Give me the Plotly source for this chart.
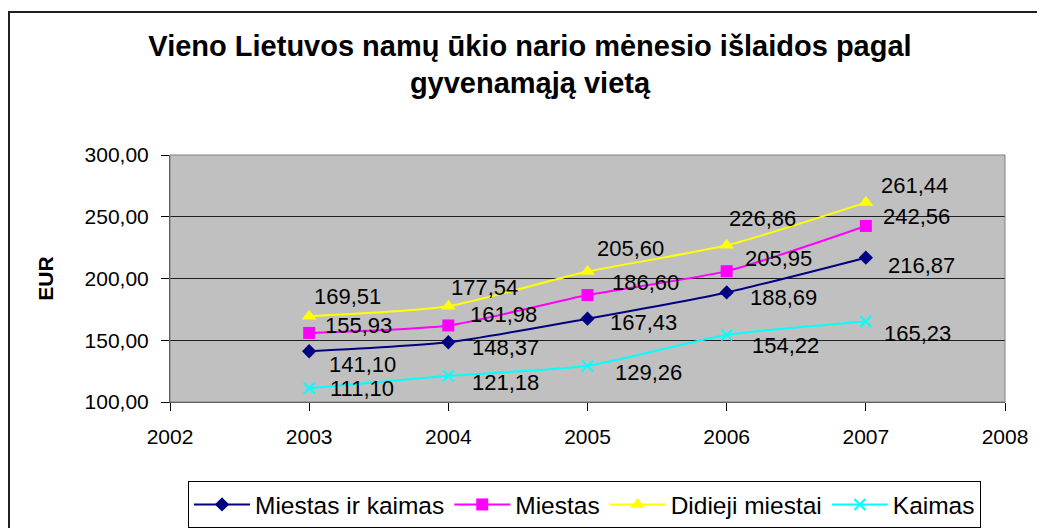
import plotly.graph_objects as go

years = [2003, 2004, 2005, 2006, 2007]
series_names = ["Miestas ir kaimas", "Miestas", "Didieji miestai", "Kaimas"]
miestas_ir_kaimas = [141.10, 148.37, 167.43, 188.69, 216.87]
miestas = [155.93, 161.98, 186.60, 205.95, 242.56]
didieji_miestai = [169.51, 177.54, 205.60, 226.86, 261.44]
kaimas = [111.10, 121.18, 129.26, 154.22, 165.23]
y_ticks = [100, 150, 200, 250, 300]
x_ticks = [2002, 2003, 2004, 2005, 2006, 2007, 2008]

title_text = "Vieno Lietuvos namų ūkio nario mėnesio išlaidos pagal<br>gyvenamąją vietą"

all_values = [miestas_ir_kaimas, miestas, didieji_miestai, kaimas]
colors = ["#000080", "#FF00FF", "#FFFF00", "#00FFFF"]
symbols = ["diamond", "square", "triangle-up", "x-thin"]
msizes = [11, 12, 13, 11]

# label offsets in pixels (dx to left edge, dy downward) per series per point
label_offsets = [
    [(18, 13), (22, 5), (20, 4), (21, 5), (20, 8)],
    [(14, -7), (20, -11), (22, -13), (16, -13), (15, -9)],
    [(3, -20), (1, -19), (7, -23), (0, -27), (13, -17)],
    [(19, 0), (22, 7), (25, 7), (23, 10), (16, 12)],
]

FONT = "Liberation Sans, Arial, sans-serif"

fig = go.Figure()
for name, vals, c, s, ms in zip(series_names, all_values, colors, symbols, msizes):
    fig.add_trace(go.Scatter(
        x=years, y=vals, name=name, mode="lines+markers",
        line=dict(color=c, width=2, shape="spline", smoothing=0.6),
        marker=dict(symbol=s, size=ms, color=c,
                    line=dict(color=c, width=2 if s == "x-thin" else 0)),
    ))

annotations = []
for vals, offs in zip(all_values, label_offsets):
    for x, v, (dx, dy) in zip(years, vals, offs):
        annotations.append(dict(
            x=x, y=v, xref="x", yref="y",
            text=f"{v:.2f}".replace(".", ","),
            showarrow=False, xanchor="left", yanchor="middle",
            xshift=dx, yshift=-dy,
            font=dict(family=FONT, size=22, color="black"),
        ))

# plot area geometry in figure px (page is offset by 8px body margin)
OFF = 8
L, T, R, B = 170 - OFF, 155 - OFF, 1005 - OFF, 402 - OFF
W, H = 1045, 528
pw, ph = R - L, B - T
def px_x(p):
    return (p - OFF - L) / pw
def px_y(p):
    return (B - (p - OFF)) / ph

shapes = [
    dict(type="rect", xref="paper", yref="paper",
         x0=px_x(9), y0=px_y(560), x1=px_x(1080), y1=px_y(12),
         line=dict(color="#202020", width=2), fillcolor="rgba(0,0,0,0)", layer="below"),
    dict(type="rect", xref="paper", yref="paper", x0=0, y0=0, x1=1, y1=1,
         line=dict(color="#808080", width=1), fillcolor="rgba(0,0,0,0)"),
]

fig.update_layout(
    width=W, height=H,
    margin=dict(l=L, r=W - R, t=T, b=H - B),
    paper_bgcolor="white", plot_bgcolor="#C0C0C0",
    separators=", ",
    font=dict(family=FONT, size=21, color="black"),
    title=dict(text=title_text, x=(530 - OFF) / W, xref="container", xanchor="center",
               y=1 - (55.5 - OFF) / H, yref="container", yanchor="middle",
               font=dict(family=FONT, size=29, color="black", weight="bold")),
    xaxis=dict(range=[2002, 2008], tickvals=x_ticks, ticktext=[str(t) for t in x_ticks],
               showgrid=False, zeroline=False, showline=True, linecolor="#404040", linewidth=1,
               ticks="outside", ticklen=8, tickcolor="black", tickfont=dict(size=21),
               ticklabelstandoff=8),
    yaxis=dict(range=[100, 300], tickvals=y_ticks, tickformat=".2f",
               showgrid=True, gridcolor="#202020", gridwidth=1, zeroline=False,
               showline=True, linecolor="#404040", linewidth=1,
               ticks="outside", ticklen=8, tickcolor="black", tickfont=dict(size=21),
               ticklabelstandoff=8,
               title=dict(text="<b>EUR</b>", font=dict(size=21), standoff=25)),
    legend=dict(orientation="h", xref="container", yref="container",
                x=(188 - OFF) / W, y=1 - (481 - OFF) / H, xanchor="left", yanchor="top",
                bordercolor="black", borderwidth=1, bgcolor="white",
                font=dict(family=FONT, size=24.5),
                itemwidth=56, tracegroupgap=0),
    annotations=annotations,
    shapes=shapes,
    showlegend=True,
)

fig.write_html("out.html")
